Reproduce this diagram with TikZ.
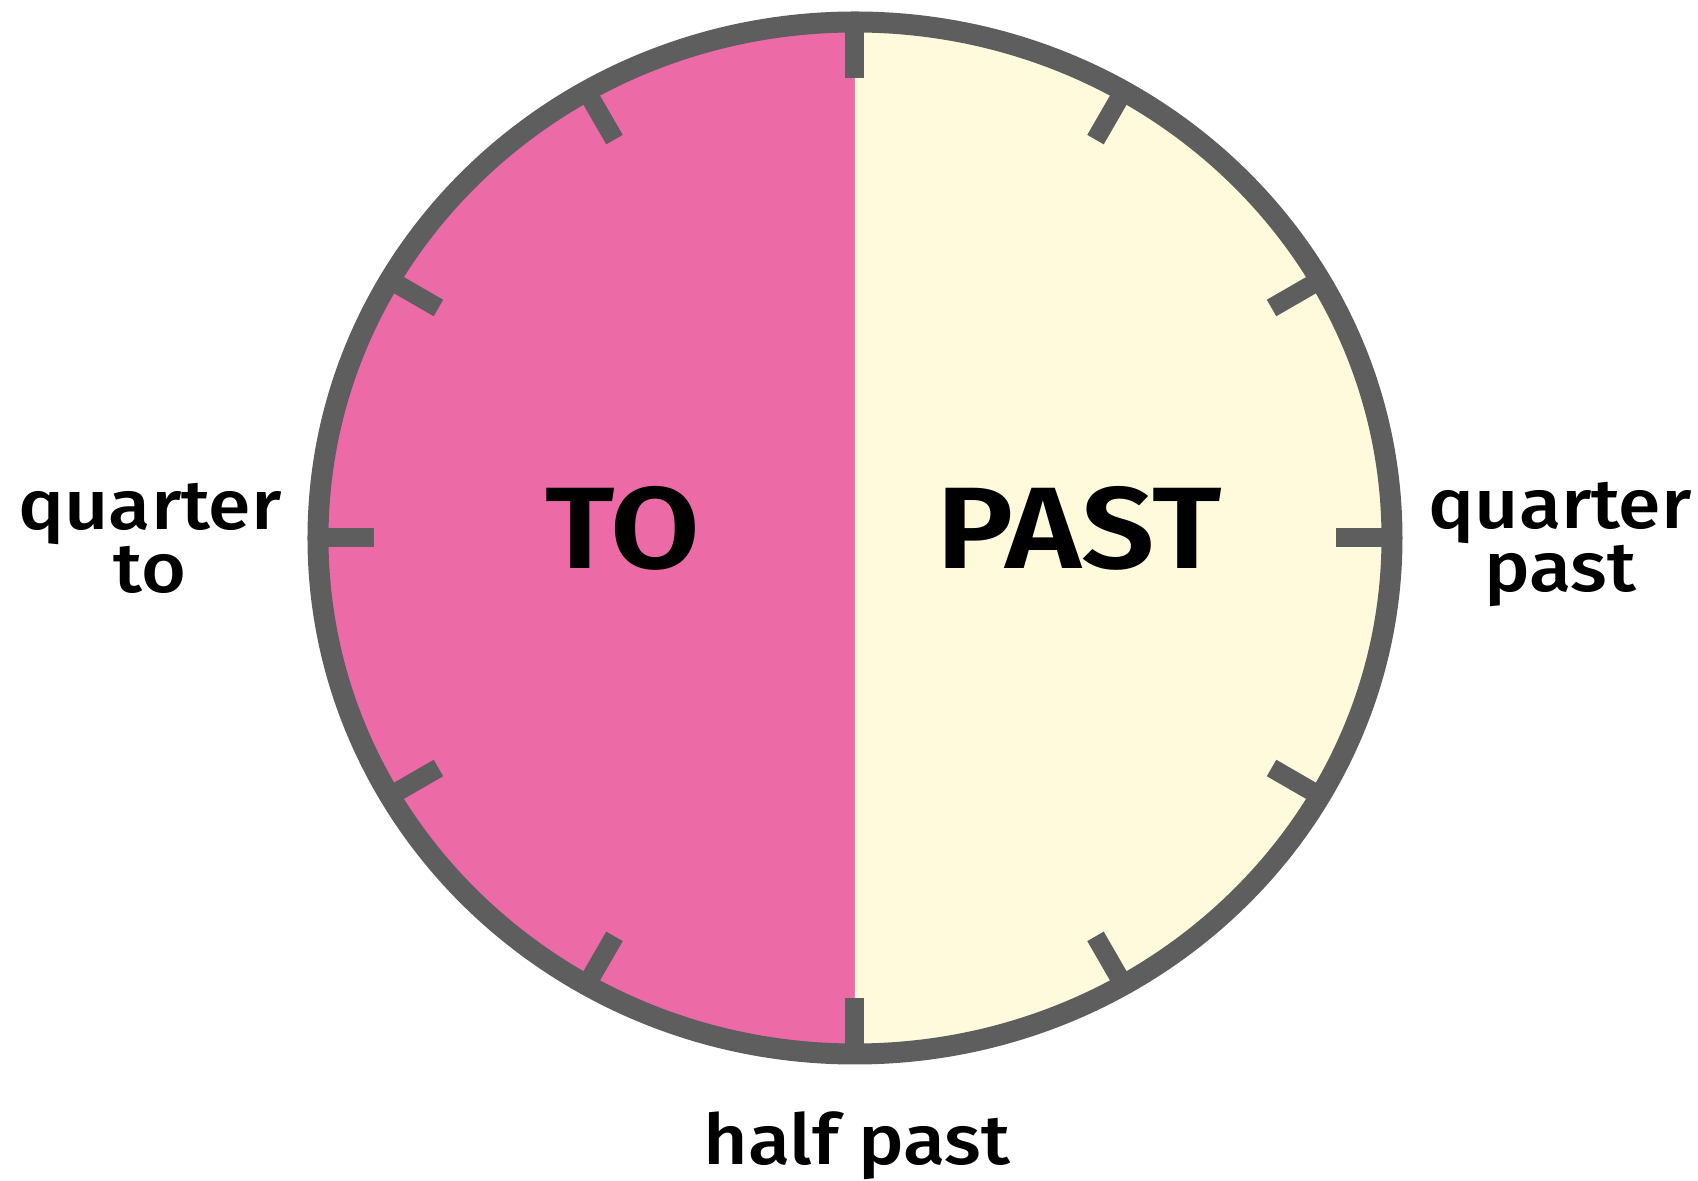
\documentclass[tikz,border=0pt]{standalone}
\usepackage{fontspec}
\setmainfont{Fira Sans}
\newfontfamily\labelfont{Fira Sans Medium}[FakeStretch=1.1]
\newfontfamily\bigfont{Fira Sans SemiBold}[FakeStretch=1.12]
\usepackage{xcolor}
\usetikzlibrary{positioning}

\definecolor{topink}{HTML}{EC6BA6}
\definecolor{pastcream}{HTML}{FFFADC}
\definecolor{rimgrey}{HTML}{5E5E5E}

\tikzset{
  rim/.style={draw=rimgrey, line width=10.5pt},
  tick/.style={rimgrey, line width=9.5pt},
  half/.style={font=\bigfont\fontsize{58}{60}\selectfont, text=black},
  timelabel/.style={font=\labelfont\fontsize{35}{28}\selectfont, align=center, inner sep=0pt}
}

\begin{document}
\begin{tikzpicture}[x=0.5pt,y=0.5pt]
\useasboundingbox (-855,-643) rectangle (843,538);
% the two halves of the face
\fill[topink] (0,516) arc[start angle=90, end angle=270, x radius=537, y radius=516] -- cycle;
\fill[pastcream] (0,-516) arc[start angle=-90, end angle=90, x radius=537, y radius=516] -- cycle;

% five-minute ticks
\foreach \a in {0,30,...,330}
  \draw[tick] ({537*cos(\a)},{516*sin(\a)}) -- ({481*cos(\a)},{460*sin(\a)});

% rim
\draw[rim] (0,0) ellipse[x radius=537, y radius=516];

\node[half, anchor=base] (to) at (-232,-31) {TO};
\node[half, anchor=base] (past) at (224,-31) {PAST};

% labels round the clock
\node[timelabel, anchor=base] (qto) at (-705,-55) {quarter\\to};
\node[timelabel, anchor=base] (qpast) at (705,-54) {quarter\\past};
\node[timelabel, anchor=base] (halfpast) at (2,-627) {half past};
\end{tikzpicture}
\end{document}
